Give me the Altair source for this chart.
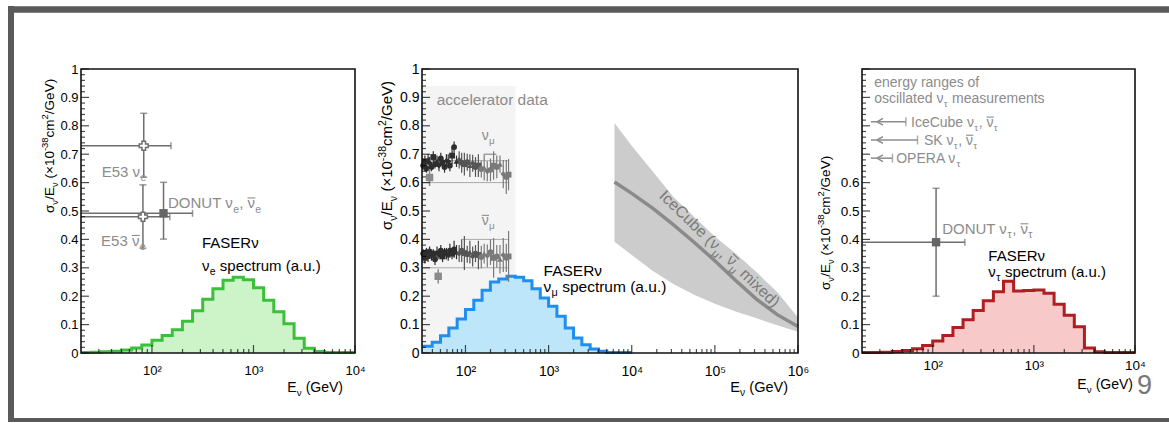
import math
import unicodedata
import altair as alt
import pandas as pd

FONT = "Liberation Sans"
GRAY = "#8c8c8c"
ERR = "#6e6e6e"

# ---------------- panel geometry ----------------
X_DOMAIN = {"e": [20, 1e4], "mu": [30, 1e6], "tau": [20, 1e4]}
X_RANGE = {"e": [81, 355], "mu": [422, 798], "tau": [862, 1135]}
Y_DOMAIN = [0, 1]
Y_RANGE = [353, 69]

# ---------------- data ----------------
# FASERnu spectra (a.u.), bins of 0.1 in log10(E/GeV)
nue_log_start = 1.3
nue_spec = [0.002, 0.003, 0.004, 0.006, 0.011, 0.018, 0.028, 0.045, 0.062, 0.082,
            0.112, 0.149, 0.189, 0.226, 0.256, 0.267, 0.258, 0.230, 0.186, 0.145,
            0.103, 0.052, 0.017, 0.005, 0.002, 0.002, 0.002]
numu_log_start = 1.5
numu_spec = [0.024, 0.038, 0.061, 0.088, 0.120, 0.153, 0.186, 0.221, 0.250, 0.261,
             0.270, 0.267, 0.254, 0.226, 0.194, 0.165, 0.129, 0.088, 0.053, 0.029,
             0.014, 0.006, 0.002, 0.002, 0.002]
nutau_log_start = 1.3
nutau_spec = [0.002, 0.002, 0.003, 0.005, 0.009, 0.015, 0.026, 0.042, 0.062, 0.090,
              0.117, 0.150, 0.184, 0.216, 0.253, 0.218, 0.220, 0.222, 0.210, 0.172,
              0.133, 0.092, 0.018, 0.004, 0.002, 0.002, 0.002]

# electron-neutrino measurements
e_meas_E = [83, 81.5, 130]
e_meas_y = [0.730, 0.480, 0.492]
e_meas_xhi = [154, 150, 251]
e_meas_ylo = [0.619, 0.369, 0.401]
e_meas_yhi = [0.844, 0.592, 0.601]
e_meas_marker = ["cross", "cross", "square"]

# tau-neutrino DONUT
tau_meas_E = [108]
tau_meas_y = [0.39]
tau_meas_xhi = [208]
tau_meas_ylo = [0.20]
tau_meas_yhi = [0.58]

# oscillated nu_tau energy ranges (arrow tip, upper end, level)
osc_names = ["IceCube", "SK", "OPERA"]
osc_tip = [24.5, 24.5, 24.5]
osc_end = [54.3, 70.8, 40.0]
osc_y = [0.814, 0.750, 0.686]

# accelerator data (nu_mu and anti-nu_mu)
acc_E = [31, 32.5, 34, 35.5, 37, 39, 41, 43, 45.5, 48, 50.5, 53, 56, 59, 62, 65, 69,
         73, 78, 84, 90, 97, 105, 113, 122, 132, 143, 155, 168, 183, 200, 218, 238,
         260, 285, 310, 330]
numu_acc_y = [0.660, 0.675, 0.650, 0.680, 0.670, 0.655, 0.690, 0.665, 0.675, 0.660,
              0.685, 0.670, 0.655, 0.680, 0.675, 0.660, 0.695, 0.725, 0.675, 0.680,
              0.670, 0.665, 0.672, 0.660, 0.668, 0.655, 0.660, 0.648, 0.652, 0.640,
              0.645, 0.660, 0.655, 0.665, 0.630, 0.620, 0.628]
numu_acc_err = [0.015, 0.02, 0.015, 0.02, 0.02, 0.015, 0.02, 0.015, 0.02, 0.02,
                0.02, 0.015, 0.02, 0.02, 0.025, 0.02, 0.03, 0.02, 0.02, 0.03,
                0.035, 0.04, 0.03, 0.04, 0.03, 0.035, 0.04, 0.03, 0.045, 0.035,
                0.04, 0.05, 0.04, 0.03, 0.05, 0.06, 0.055]
nubar_acc_y = [0.350, 0.335, 0.355, 0.340, 0.360, 0.345, 0.350, 0.330, 0.355, 0.345,
               0.360, 0.340, 0.355, 0.350, 0.345, 0.360, 0.350, 0.365, 0.355, 0.350,
               0.360, 0.352, 0.348, 0.355, 0.340, 0.350, 0.345, 0.338, 0.350, 0.342,
               0.355, 0.335, 0.340, 0.330, 0.345, 0.335, 0.340]
nubar_acc_err = [0.015, 0.02, 0.015, 0.02, 0.015, 0.02, 0.015, 0.02, 0.02, 0.015,
                 0.02, 0.02, 0.015, 0.02, 0.02, 0.025, 0.02, 0.03, 0.025, 0.03,
                 0.04, 0.06, 0.03, 0.04, 0.035, 0.03, 0.05, 0.04, 0.035, 0.04,
                 0.045, 0.07, 0.04, 0.05, 0.06, 0.05, 0.09]
acc_extra_E = [37, 47]
acc_extra_y = [0.618, 0.270]
acc_extra_err = [0.03, 0.025]
acc_ref_lo = [31, 31, 31, 88]
acc_ref_hi = [330, 330, 330, 330]
acc_ref_y = [0.600, 0.677, 0.300, 0.400]
acc_region = [30, 400, 0.94]

# IceCube (nu_mu, anti-nu_mu mixed)
ic_E = [6200, 1e4, 17800, 31600, 56200, 1e5, 178000, 316000, 562000, 1e6]
ic_mid = [0.602, 0.562, 0.510, 0.452, 0.390, 0.325, 0.255, 0.190, 0.135, 0.093]
ic_hi = [0.810, 0.730, 0.640, 0.550, 0.480, 0.410, 0.350, 0.285, 0.215, 0.125]
ic_lo = [0.392, 0.345, 0.290, 0.243, 0.205, 0.173, 0.146, 0.122, 0.098, 0.075]

# axis ticks
Y_MAJOR = [0, 0.1, 0.2, 0.3, 0.4, 0.5, 0.6, 0.7, 0.8, 0.9, 1.0]
Y_LABELS = {"e": Y_MAJOR, "mu": Y_MAJOR, "tau": [0, 0.1, 0.2, 0.3, 0.4, 0.5, 0.6]}
X_MAJOR = {"e": [100, 1000, 10000], "mu": [100, 1000, 10000, 100000, 1000000],
           "tau": [100, 1000, 10000]}

# ---------------- helpers ----------------
def xs(p):
    return alt.Scale(type="log", domain=X_DOMAIN[p], range=X_RANGE[p], nice=False)


def ys():
    return alt.Scale(domain=Y_DOMAIN, range=Y_RANGE, nice=False, zero=False)


def X(p, f="x"):
    return alt.X(f"{f}:Q", scale=xs(p), axis=None)


def Y(f="y"):
    return alt.Y(f"{f}:Q", scale=ys(), axis=None)


ONE = pd.DataFrame({"k": [0]})

WID = {' ': .278, '(': .333, ')': .333, ',': .278, '.': .278, '/': .278, '-': .333,
       '×': .584, 'A': .667, 'B': .667, 'C': .722, 'D': .722, 'E': .667, 'F': .611,
       'G': .778, 'I': .278, 'K': .667, 'N': .722, 'O': .778, 'P': .667, 'R': .722,
       'S': .667, 'T': .611, 'U': .722, 'V': .667, 'a': .556, 'b': .556, 'c': .5,
       'd': .556, 'e': .556, 'f': .278, 'g': .556, 'i': .222, 'l': .222, 'm': .833,
       'n': .556, 'o': .556, 'p': .556, 'r': .333, 's': .5, 't': .278, 'u': .556,
       'v': .5, 'x': .5, 'y': .5, 'ν': .52, 'μ': .576, 'τ': .45, 'σ': .61}
BAR = "\u0304"


def tw(s, size):
    return sum(WID.get(c, .556) for c in s if not unicodedata.combining(c)) * size


def parse(s):
    segs, buf, i = [], "", 0
    while i < len(s):
        if s[i] in "_^" and i + 1 < len(s) and s[i + 1] == "{":
            if buf:
                segs.append((buf, "n"))
                buf = ""
            j = s.index("}", i)
            segs.append((s[i + 2:j], "sub" if s[i] == "_" else "sup"))
            i = j + 1
        else:
            buf += s[i]
            i += 1
    if buf:
        segs.append((buf, "n"))
    return segs


def rich(s, size, color, enc, df=ONE, angle=0, halign="left"):
    """Text with sub/superscripts and overbars, as several text marks."""
    items, bars = [], []
    cur = 0.0
    for t, k in parse(s):
        fs = size if k == "n" else size * 0.7
        shift = 0 if k == "n" else (0.28 * size if k == "sub" else -0.42 * size)
        dy = 0.36 * size + shift
        lead = len(t) - len(t.lstrip(" "))      # SVG drops leading spaces
        cur += lead * WID[" "] * fs
        t = t.lstrip(" ")
        clean = ""
        for c in t:
            if c == BAR and clean:
                cw = tw(clean[-1], fs)
                bars.append((cur + tw(clean[:-1], fs) + cw / 2, dy - 0.70 * fs, 0.5 * cw))
            else:
                clean += c
        items.append((clean, fs, dy, cur))
        cur += tw(clean, fs)
    total = cur
    off = 0 if halign == "left" else (-total / 2 if halign == "center" else -total)
    out = []
    for t, fs, dy, dx in items:
        if t:
            out.append(alt.Chart(df).mark_text(
                text=t, dx=dx + off, dy=dy, align="left", baseline="alphabetic",
                font=FONT, fontSize=fs, color=color, angle=angle).encode(**enc))
    a = math.radians(angle)
    for bx, by, half in bars:
        bx += off
        out.append(alt.Chart(df).mark_point(
            shape="M-1,0L1,0", filled=False, size=(2 * half) ** 2, strokeWidth=1.1,
            color=color, opacity=1, angle=angle,
            xOffset=bx * math.cos(a) - by * math.sin(a),
            yOffset=bx * math.sin(a) + by * math.cos(a)).encode(**enc))
    return out


def at(p, E, v):
    return dict(enc=dict(x=X(p), y=Y()), df=pd.DataFrame({"x": [E], "y": [v]}))


def px(xp, yp):
    return dict(enc=dict(x=alt.value(xp), y=alt.value(yp)), df=ONE)


def step_df(p, log_start, vals):
    edges = [10 ** (log_start + 0.1 * i) for i in range(len(vals) + 1)]
    edges[0] = X_DOMAIN[p][0]
    return pd.DataFrame({"x": edges, "y": list(vals) + [vals[-1]], "y0": 0.0})


def histogram(p, log_start, vals, fill, stroke):
    df = step_df(p, log_start, vals)
    area = alt.Chart(df).mark_area(interpolate="step-after", color=fill).encode(
        x=X(p), y=Y(), y2=alt.Y2("y0"))
    line = alt.Chart(df).mark_line(interpolate="step-after", color=stroke,
                                   strokeWidth=3).encode(x=X(p), y=Y())
    return [area, line]


def errbars(p, df, color=ERR, width=1.5):
    return [
        alt.Chart(df).mark_rule(color=color, strokeWidth=width).encode(
            x=X(p), y=Y("ylo"), y2=alt.Y2("yhi")),
        alt.Chart(df).mark_rule(color=color, strokeWidth=width).encode(
            x=X(p, "xlo"), x2=alt.X2("xhi"), y=Y()),
        alt.Chart(df).mark_tick(orient="horizontal", size=7, thickness=width,
                                color=color).encode(x=X(p), y=Y("ylo")),
        alt.Chart(df).mark_tick(orient="horizontal", size=7, thickness=width,
                                color=color).encode(x=X(p), y=Y("yhi")),
        alt.Chart(df).mark_tick(orient="vertical", size=7, thickness=width,
                                color=color).encode(x=X(p, "xhi"), y=Y()),
    ]


def ticks(p):
    lo, hi = X_DOMAIN[p]
    y_minor = [i / 50 for i in range(51) if i % 5]
    x_minor = [m * 10 ** d for d in range(1, 7) for m in range(2, 10)
               if lo < m * 10 ** d < hi]
    out = []
    for vals, size in ((Y_MAJOR, 8), (y_minor, 4)):
        df = pd.DataFrame({"x": lo, "y": vals})
        out.append(alt.Chart(df).mark_tick(orient="horizontal", size=size, thickness=1.2,
                                           xOffset=size / 2, color="black")
                   .encode(x=X(p), y=Y()))
    for vals, size in ((X_MAJOR[p], 8), (x_minor, 4)):
        df = pd.DataFrame({"x": vals, "y": 0.0})
        out.append(alt.Chart(df).mark_tick(orient="vertical", size=size, thickness=1.2,
                                           yOffset=-size / 2, color="black")
                   .encode(x=X(p), y=Y()))
    return out


SUP = {100: "²", 1000: "³", 10000: "⁴", 100000: "⁵", 1000000: "⁶"}


def box(p, lab_size, lab_pad_x):
    lo, hi = X_DOMAIN[p]
    df = pd.DataFrame({"x": [lo], "x2": [hi], "y": [0.0], "y2": [1.0]})
    expr = "'10' + (" + " : ".join(f"datum.value == {k} ? '{v}'" for k, v in SUP.items()) + " : '')"
    xa = alt.Axis(orient="bottom", offset=-(423 - Y_RANGE[0]), values=X_MAJOR[p],
                  labelExpr=expr, ticks=False, tickSize=0, domain=False, grid=False,
                  labelFont=FONT, labelFontSize=lab_size, labelColor="black",
                  labelPadding=lab_pad_x, labelFlush=False, labelOverlap=False, title="")
    ya = alt.Axis(orient="left", offset=-X_RANGE[p][0], values=Y_LABELS[p], format="~g",
                  ticks=False, tickSize=0, domain=False, grid=False,
                  labelFont=FONT, labelFontSize=lab_size, labelColor="black",
                  labelPadding=3, labelFlush=False, labelOverlap=False, title="")
    return alt.Chart(df).mark_rect(fillOpacity=0, stroke="#111111", strokeWidth=1.6).encode(
        x=alt.X("x:Q", scale=xs(p), axis=xa), x2=alt.X2("x2"),
        y=alt.Y("y:Q", scale=ys(), axis=ya), y2=alt.Y2("y2"))


YTITLE = "σ_{ν}/E_{ν} (×10^{-38}cm^{2}/GeV)"
XTITLE = "E_{ν} (GeV)"
L = []

# ============ panel 1 : nu_e ============
L += histogram("e", nue_log_start, nue_spec, "#cdf3c9", "#3cc03c")
e_df = pd.DataFrame({"x": e_meas_E, "y": e_meas_y, "xlo": X_DOMAIN["e"][0],
                     "xhi": e_meas_xhi, "ylo": e_meas_ylo, "yhi": e_meas_yhi,
                     "m": e_meas_marker})
L += errbars("e", e_df)
L.append(alt.Chart(e_df[e_df.m == "cross"]).mark_point(
    shape="cross", filled=True, fill="white", stroke=ERR, strokeWidth=1.5, size=80,
    opacity=1).encode(x=X("e"), y=Y()))
L.append(alt.Chart(e_df[e_df.m == "square"]).mark_square(size=70, color="#666666",
                                                       opacity=1).encode(x=X("e"), y=Y()))
L += rich("E53 ν_{e}", 15, GRAY, **at("e", 32, 0.640))
L += rich("DONUT ν_{e}, ν" + BAR + "_{e}", 15, GRAY, **at("e", 144, 0.528))
L += rich("E53 ν" + BAR + "_{e}", 15, GRAY, **at("e", 31.5, 0.396))
L += rich("FASERν", 15, "black", **at("e", 311, 0.387))
L += rich("ν_{e} spectrum (a.u.)", 15, "black", **at("e", 311, 0.308))
L += ticks("e")
L.append(box("e", 13, 11))
L += rich(YTITLE, 13.5, "black", angle=270, **px(49, 213))
L += rich(XTITLE, 14, "black", halign="right", **px(343, 387))

# ============ panel 2 : nu_mu ============
reg = pd.DataFrame({"x": [acc_region[0]], "x2": [acc_region[1]], "y": [0.0],
                    "y2": [acc_region[2]]})
L.append(alt.Chart(reg).mark_rect(color="#f4f4f4").encode(
    x=X("mu"), x2=alt.X2("x2"), y=Y(), y2=alt.Y2("y2")))
ic = pd.DataFrame({"x": ic_E, "mid": ic_mid, "hi": ic_hi, "lo": ic_lo})
L.append(alt.Chart(ic).mark_area(color="#cccccc").encode(
    x=X("mu"), y=Y("lo"), y2=alt.Y2("hi")))
L.append(alt.Chart(ic).mark_line(color="#8a8a8a", strokeWidth=3.5).encode(
    x=X("mu"), y=Y("mid")))
L += histogram("mu", numu_log_start, numu_spec, "#bde6fa", "#1f8ef0")

refl = pd.DataFrame({"xlo": acc_ref_lo, "xhi": acc_ref_hi, "y": acc_ref_y})
L.append(alt.Chart(refl).mark_rule(color="#aaaaaa", strokeWidth=1).encode(
    x=X("mu", "xlo"), x2=alt.X2("xhi"), y=Y()))
shapes = ["circle", "square", "circle", "triangle-up", "diamond"]
for yv, ev in ((numu_acc_y, numu_acc_err), (nubar_acc_y, nubar_acc_err)):
    cols = ["#2e2e2e" if E < 80 else ("#555555" if E < 150 else "#7a7a7a") for E in acc_E]
    df = pd.DataFrame({"x": acc_E, "y": yv, "ylo": [a - b for a, b in zip(yv, ev)],
                       "yhi": [a + b for a, b in zip(yv, ev)], "c": cols,
                       "s": [shapes[i % 5] for i in range(len(acc_E))]})
    L.append(alt.Chart(df).mark_rule(strokeWidth=1.2).encode(
        x=X("mu"), y=Y("ylo"), y2=alt.Y2("yhi"), color=alt.Color("c:N", scale=None)))
    L.append(alt.Chart(df).mark_point(filled=True, size=34, opacity=1).encode(
        x=X("mu"), y=Y(), color=alt.Color("c:N", scale=None),
        shape=alt.Shape("s:N", scale=None)))
ex = pd.DataFrame({"x": acc_extra_E, "y": acc_extra_y,
                   "ylo": [a - b for a, b in zip(acc_extra_y, acc_extra_err)],
                   "yhi": [a + b for a, b in zip(acc_extra_y, acc_extra_err)]})
L.append(alt.Chart(ex).mark_rule(color="#8a8a8a", strokeWidth=1.5).encode(
    x=X("mu"), y=Y("ylo"), y2=alt.Y2("yhi")))
L.append(alt.Chart(ex).mark_square(size=55, color="#8a8a8a", opacity=1).encode(
    x=X("mu"), y=Y()))
hx = pd.DataFrame({"x": [195], "xlo": [165], "xhi": [235], "y": [0.70]})
L.append(alt.Chart(hx).mark_rule(color="#777777", strokeWidth=1).encode(
    x=X("mu", "xlo"), x2=alt.X2("xhi"), y=Y()))

L += rich("accelerator data", 15.5, GRAY, **at("mu", 45, 0.894))
L += rich("ν_{μ}", 14, GRAY, **at("mu", 157, 0.768))
L += rich("ν" + BAR + "_{μ}", 14, GRAY, **at("mu", 157, 0.468))
L += rich("FASERν", 15.5, "black", **at("mu", 869, 0.292))
L += rich("ν_{μ} spectrum (a.u.)", 15.5, "black", **at("mu", 869, 0.236))
L += rich("IceCube (ν_{μ}, ν" + BAR + "_{μ} mixed)", 16, "#7a7a7a", angle=44,
          halign="center", **at("mu", 115000, 0.368))
L += ticks("mu")
L.append(box("mu", 14, 11))
L += rich(YTITLE, 15, "black", angle=270, **px(387, 230))
L += rich(XTITLE, 14.5, "black", halign="right", **px(788, 387))

# ============ panel 3 : nu_tau ============
L += histogram("tau", nutau_log_start, nutau_spec, "#f8c9c9", "#b01e22")
osc = pd.DataFrame({"x": osc_tip, "x2": osc_end, "y": osc_y})
L.append(alt.Chart(osc).mark_rule(color=GRAY, strokeWidth=1.5).encode(
    x=X("tau"), x2=alt.X2("x2"), y=Y()))
L.append(alt.Chart(osc).mark_tick(orient="vertical", size=9, thickness=1.5, color=GRAY)
         .encode(x=X("tau", "x2"), y=Y()))
L.append(alt.Chart(osc).mark_point(shape="M0,0L1,-0.55M0,0L1,0.55", filled=False,
                                   size=150, strokeWidth=1.5, color=GRAY, opacity=1,
                                   xOffset=6).encode(x=X("tau"), y=Y()))
tdf = pd.DataFrame({"x": tau_meas_E, "y": tau_meas_y, "xlo": X_DOMAIN["tau"][0],
                    "xhi": tau_meas_xhi, "ylo": tau_meas_ylo, "yhi": tau_meas_yhi})
L += errbars("tau", tdf)
L.append(alt.Chart(tdf).mark_square(size=70, color="#666666", opacity=1).encode(
    x=X("tau"), y=Y()))
L += rich("energy ranges of", 14, GRAY, **at("tau", 26.4, 0.955))
L += rich("oscillated ν_{τ} measurements", 14, GRAY, **at("tau", 26.4, 0.898))
L += rich("IceCube ν_{τ}, ν" + BAR + "_{τ}", 14, GRAY, **at("tau", 61, 0.814))
L += rich("SK ν_{τ}, ν" + BAR + "_{τ}", 14, GRAY, **at("tau", 82, 0.750))
L += rich("OPERA ν_{τ}", 14, GRAY, **at("tau", 43.6, 0.686))
L += rich("DONUT ν_{τ}, ν" + BAR + "_{τ}", 15, GRAY, **at("tau", 124, 0.437))
L += rich("FASERν", 15, "black", **at("tau", 355, 0.343))
L += rich("ν_{τ} spectrum (a.u.)", 15, "black", **at("tau", 355, 0.286))
L += ticks("tau")
L.append(box("tau", 13.5, 5))
L += rich(YTITLE, 13.5, "black", angle=270, **px(825, 290))
L += rich(XTITLE, 14, "black", halign="right", **px(1133, 384))

# ============ slide frame and page number ============
FRAME = "#5a5a5a"
L.append(alt.Chart(ONE).mark_rule(color=FRAME, strokeWidth=6.5).encode(
    x=alt.value(8), x2=alt.value(1169), y=alt.value(9.5)))
L.append(alt.Chart(ONE).mark_rule(color=FRAME, strokeWidth=6).encode(
    x=alt.value(11), y=alt.value(6), y2=alt.value(422)))
L.append(alt.Chart(ONE).mark_rule(color=FRAME, strokeWidth=4).encode(
    x=alt.value(8), x2=alt.value(1169), y=alt.value(420)))
L.append(alt.Chart(ONE).mark_text(text="9", font=FONT, fontSize=27, color="#777777",
                                  align="left", baseline="alphabetic").encode(
    x=alt.value(1137), y=alt.value(394)))

chart = alt.layer(*L).resolve_scale(x="independent", y="independent").properties(
    width=1169, height=423, autosize=alt.AutoSizeParams(type="none"), padding=0,
    background="white").configure_view(strokeWidth=0)

chart.save("out.html", embed_options={"renderer": "svg", "actions": False})
